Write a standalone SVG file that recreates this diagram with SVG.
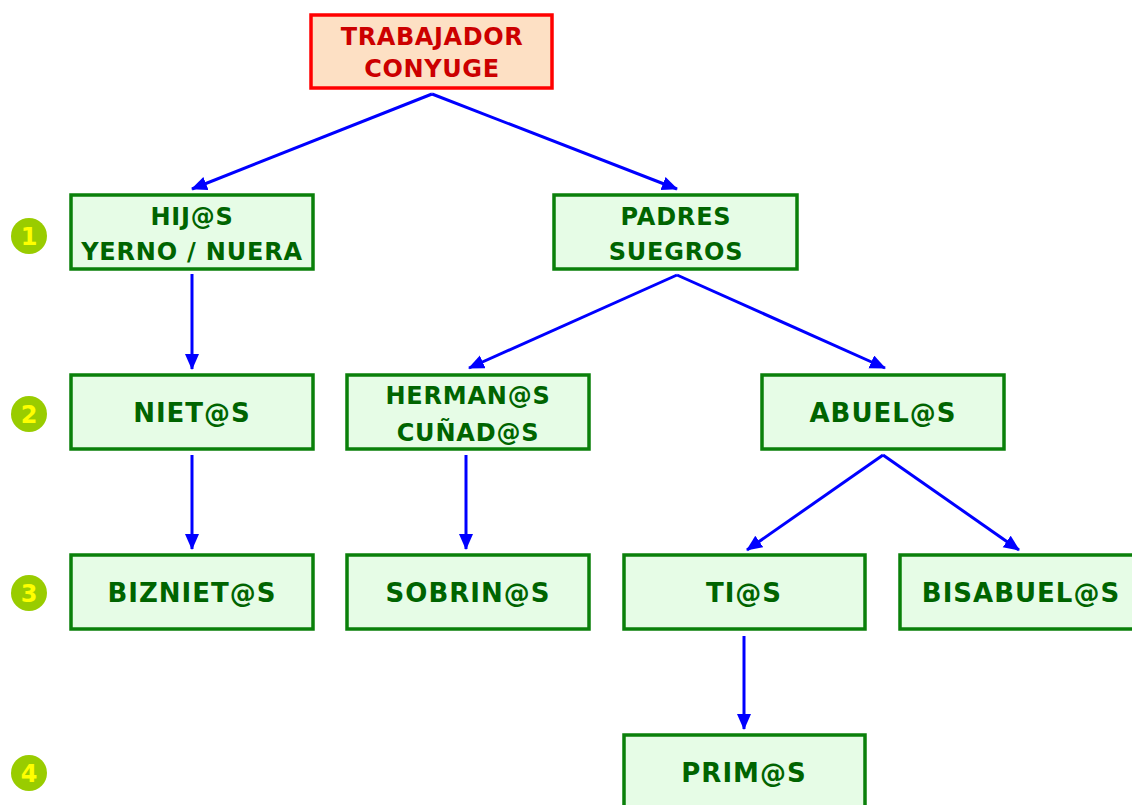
<svg xmlns="http://www.w3.org/2000/svg" width="1132" height="805" viewBox="0 0 1132 805">
<style>
.box{fill:#E6FCE6;stroke:#0A800A;stroke-width:3.5}
.top{fill:#FDE0C4;stroke:#FF0000;stroke-width:3.5}
.t{font-family:"DejaVu Sans","Verdana",sans-serif;font-weight:bold;text-anchor:middle}
.g2{fill:#006400;font-size:24px;letter-spacing:0.8px}
.g1{fill:#006400;font-size:26px;letter-spacing:1px}
.r{fill:#CC0000;font-size:24px;letter-spacing:0.6px}
.c{fill:#99CC00}
.n{fill:#FFFF00;font-size:24px}
.a{stroke:#0000FF;stroke-width:3;fill:none;marker-end:url(#ah)}
</style>
<defs>
<marker id="ah" markerUnits="userSpaceOnUse" markerWidth="18" markerHeight="16" refX="15" refY="7" orient="auto">
<path d="M0,0 L16,7 L0,14 z" fill="#0000FF"/>
</marker>
</defs>
<rect width="1132" height="805" fill="#FFFFFF"/>
<g id="levels">
<g id="level1"><circle class="c" cx="29" cy="236" r="18"/><text class="t n" x="29" y="245">1</text></g>
<g id="level2"><circle class="c" cx="29" cy="414" r="18"/><text class="t n" x="29" y="423">2</text></g>
<g id="level3"><circle class="c" cx="29" cy="593" r="18"/><text class="t n" x="29" y="602">3</text></g>
<g id="level4"><circle class="c" cx="29" cy="773" r="18"/><text class="t n" x="29" y="782">4</text></g>
</g>
<g id="connectors">
<line class="a" x1="432" y1="94" x2="192" y2="189"/>
<line class="a" x1="432" y1="94" x2="677" y2="189"/>
<line class="a" x1="192" y1="274" x2="192" y2="369"/>
<line class="a" x1="677" y1="275" x2="469" y2="368"/>
<line class="a" x1="677" y1="275" x2="885" y2="368"/>
<line class="a" x1="192" y1="455" x2="192" y2="549"/>
<line class="a" x1="466" y1="455" x2="466" y2="549"/>
<line class="a" x1="883" y1="455" x2="747" y2="550"/>
<line class="a" x1="883" y1="455" x2="1019" y2="550"/>
<line class="a" x1="744" y1="636" x2="744" y2="729"/>
</g>
<g id="trabajador">
<rect class="top" x="311" y="15" width="241" height="73"/>
<text class="t r" x="432" y="45">TRABAJADOR</text>
<text class="t r" x="432" y="77">CONYUGE</text>
</g>
<g id="hijos">
<rect class="box" x="71" y="195" width="242" height="74"/>
<text class="t g2" x="192" y="225">HIJ@S</text>
<text class="t g2" x="192" y="260">YERNO / NUERA</text>
</g>
<g id="padres">
<rect class="box" x="554" y="195" width="243" height="74"/>
<text class="t g2" x="676" y="225">PADRES</text>
<text class="t g2" x="676" y="260">SUEGROS</text>
</g>
<g id="nietos">
<rect class="box" x="71" y="375" width="242" height="74"/>
<text class="t g1" x="192" y="422">NIET@S</text>
</g>
<g id="hermanos">
<rect class="box" x="347" y="375" width="242" height="74"/>
<text class="t g2" x="468" y="404">HERMAN@S</text>
<text class="t g2" x="468" y="441">CUÑAD@S</text>
</g>
<g id="abuelos">
<rect class="box" x="762" y="375" width="242" height="74"/>
<text class="t g1" x="883" y="422">ABUEL@S</text>
</g>
<g id="biznietos">
<rect class="box" x="71" y="555" width="242" height="74"/>
<text class="t g1" x="192" y="602">BIZNIET@S</text>
</g>
<g id="sobrinos">
<rect class="box" x="347" y="555" width="242" height="74"/>
<text class="t g1" x="468" y="602">SOBRIN@S</text>
</g>
<g id="tios">
<rect class="box" x="624" y="555" width="241" height="74"/>
<text class="t g1" x="744" y="602">TI@S</text>
</g>
<g id="bisabuelos">
<rect class="box" x="900" y="555" width="242" height="74"/>
<text class="t g1" x="1021" y="602">BISABUEL@S</text>
</g>
<g id="primos">
<rect class="box" x="624" y="735" width="241" height="80"/>
<text class="t g1" x="744" y="782">PRIM@S</text>
</g>
</svg>
